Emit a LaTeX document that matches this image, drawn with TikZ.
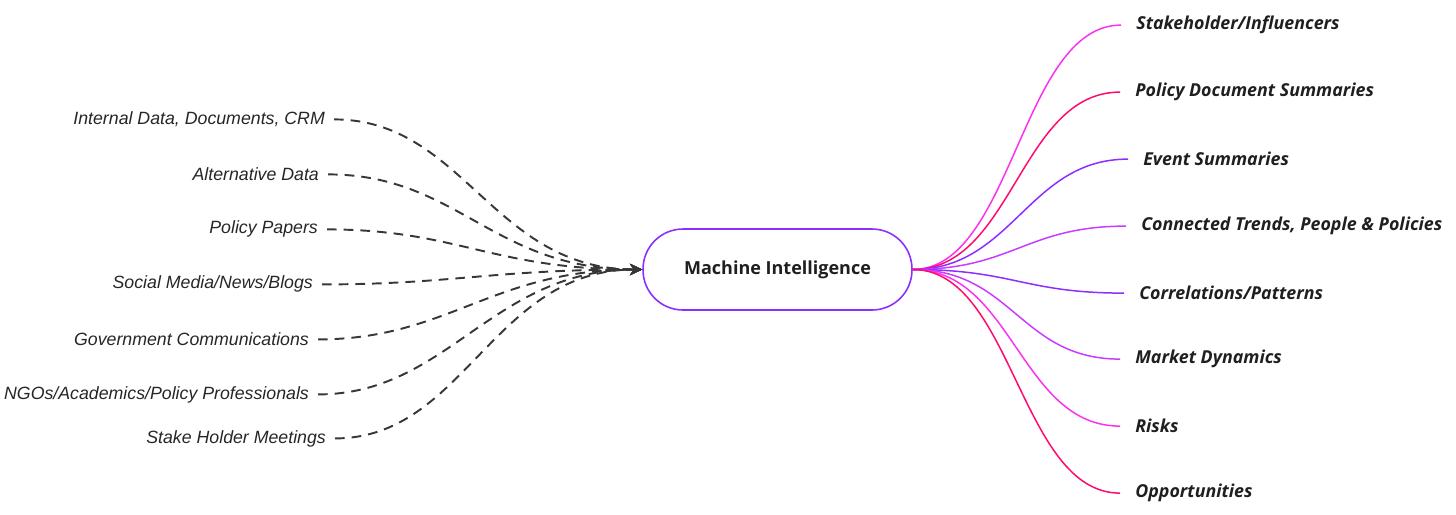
\documentclass[tikz,border=0pt]{standalone}
\usepackage{fontspec}
\usepackage{xcolor}
\usepackage{tikz}
\usetikzlibrary{arrows.meta,calc,positioning}
\newfontfamily\srcfont{Liberation Sans}
\newfontfamily\resfont{Open Sans}
\definecolor{mviolet}{RGB}{140,46,255}
\definecolor{mmagenta}{RGB}{250,50,240}
\definecolor{mcrimson}{RGB}{255,10,110}
\definecolor{mpurple}{RGB}{200,60,255}
\definecolor{darkline}{RGB}{55,55,55}

\begin{document}
\begin{tikzpicture}[x=0.02cm,y=-0.02cm,
  src/.style={anchor=east,inner xsep=5pt,inner ysep=0pt,text=black!85,yshift=-0.8pt,
    font=\srcfont\itshape\fontsize{10.1}{12}\selectfont},
  result/.style={anchor=west,inner xsep=8.5pt,inner ysep=0pt,text=black!88,yshift=-1.2pt,
    font=\resfont\bfseries\itshape\fontsize{10.15}{12}\selectfont},
  hub/.style={draw=mviolet,line width=0.9pt,rounded corners=0.8cm,
    minimum width=5.38cm,minimum height=1.62cm,text=black!88,
    font=\resfont\bfseries\fontsize{10.25}{12}\selectfont},
  feed/.style={draw=darkline,line width=1.1pt,dash pattern=on 5.5pt off 4pt,
    -{Stealth[length=7pt,width=6.5pt]}},
  branch/.style={line width=0.85pt}]
  \useasboundingbox (0,0) rectangle (1456,514);

  \node[hub] (mi) at (777.5,269.5) {\raisebox{-0.9pt}{Machine Intelligence}};

  \node[src] (in1) at (334,118) {Internal Data, Documents, CRM};
  \node[src] (in2) at (328,173) {Alternative Data};
  \node[src] (in3) at (327,228) {Policy Papers};
  \node[src] (in4) at (322,283) {Social Media/News/Blogs};
  \node[src] (in5) at (318,338) {Government Communications};
  \node[src] (in6) at (318,393) {NGOs/Academics/Policy Professionals};
  \node[src] (in7) at (335,437) {Stake Holder Meetings};

  \node[result] (res1) at (1121,23) {Stakeholder/Influencers};
  \node[result] (res2) at (1120,90) {Policy Document Summaries};
  \node[result] (res3) at (1128,157) {Event Summaries};
  \node[result] (res4) at (1126,224) {Connected Trends, People \& Policies};
  \node[result] (res5) at (1124,291) {Correlations/Patterns};
  \node[result] (res6) at (1120,357) {Market Dynamics};
  \node[result] (res7) at (1120,424) {Risks};
  \node[result] (res8) at (1120,491) {Opportunities};

  \foreach \n in {1,...,7}
    \draw[feed] (in\n.east) .. controls +(130,0) and +(-150,0) .. (mi.west);

  \foreach \n/\c in {1/mmagenta,2/mcrimson,3/mviolet,4/mpurple,5/mviolet,6/mpurple,7/mmagenta,8/mcrimson}
    \draw[branch,\c] (mi.east) .. controls +(100,0) and +(-100,0) .. (res\n.west);
\end{tikzpicture}
\end{document}
